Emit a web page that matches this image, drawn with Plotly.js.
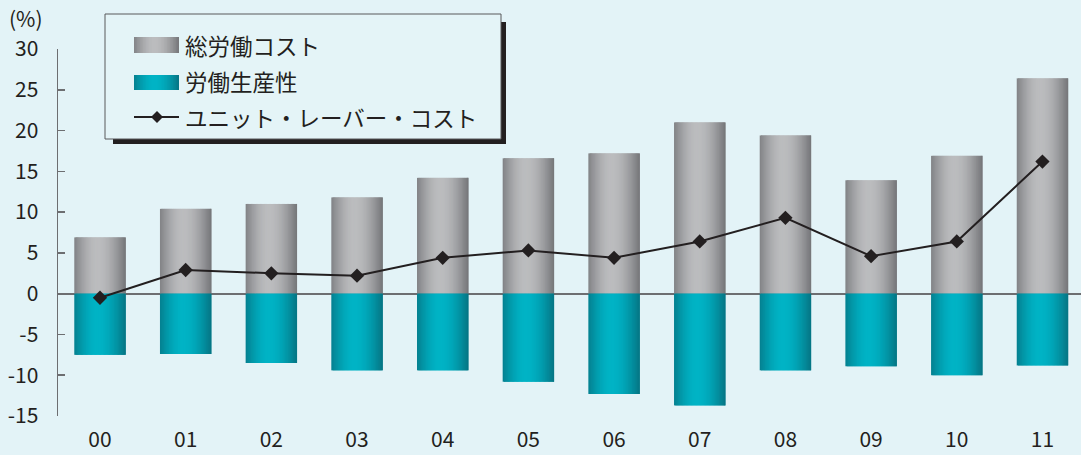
<!DOCTYPE html>
<html>
<head>
<meta charset="utf-8">
<script src="https://cdn.plot.ly/plotly-3.0.1.min.js"></script>
<style>
html,body{margin:0;padding:0;background:#e3f3f7;}
#chart{width:1081px;height:455px;}
</style>
</head>
<body>
<div id="chart"></div>
<script>
// ---- data ----
const years = ["00","01","02","03","04","05","06","07","08","09","10","11"];
const totalLaborCost = [6.9, 10.4, 11.0, 11.8, 14.2, 16.6, 17.2, 21.0, 19.4, 13.9, 16.9, 26.4];
const laborProductivity = [-7.5, -7.4, -8.5, -9.4, -9.4, -10.8, -12.3, -13.7, -9.4, -8.9, -10.0, -8.8];
const unitLaborCost = [-0.5, 2.9, 2.5, 2.2, 4.4, 5.3, 4.4, 6.4, 9.3, 4.6, 6.4, 16.2];
const yTickVals = [-15, -10, -5, 0, 5, 10, 15, 20, 25, 30];
const yTickText = ["-15", "-10", "-5", "0", "5", "10", "15", "20", "25", "30"];
const seriesNames = ["総労働コスト", "労働生産性", "ユニット・レーバー・コスト"];

// ---- styling helpers ----
const FONT = '"Noto Sans CJK JP", "Noto Sans", sans-serif';
const TXT = '#231f20';
function hex(c){return [parseInt(c.slice(1,3),16),parseInt(c.slice(3,5),16),parseInt(c.slice(5,7),16)];}
function mix(a,b,f){const A=hex(a),B=hex(b);return 'rgb('+A.map((v,i)=>Math.round(v+(B[i]-v)*f)).join(',')+')';}
function prof(t){ // brightness profile across a bar
  const p=0.45;
  if(t<p) return 0.25+0.75*Math.sin(Math.PI/2*t/p);
  return Math.cos(Math.PI/2*(t-p)/(1-p)*0.95);
}
const GRAY=['#6e6f73','#bbbcbe'];
const TEAL=['#066f7e','#00b3c5'];
const N=40, BW=0.6;

const traces=[];
function addGradientBars(vals, pal){
  const w=BW/N;
  for(let i=0;i<N;i++){
    const t=(i+0.5)/N;
    traces.push({
      type:'bar', x:years, y:vals,
      offset:-BW/2+i*w, width:(i<N-1)? w*2 : w,
      marker:{color:mix(pal[0],pal[1],prof(t)), line:{width:0}, opacity:1},
      showlegend:false, hoverinfo:'skip'
    });
  }
}
addGradientBars(totalLaborCost, GRAY);
addGradientBars(laborProductivity, TEAL);
traces.push({
  type:'scatter', mode:'lines+markers', x:years, y:unitLaborCost, name:seriesNames[2],
  line:{color:TXT,width:2}, marker:{symbol:'diamond',size:11,color:TXT},
  showlegend:false
});

// ---- layout geometry ----
const L=58, T=49, W=1081, H=455, PW=W-L, PH=416-T;
const px=x=>(x-L)/PW, py=y=>(416-y)/PH;
const shapes=[];
function rect(x0,y0,x1,y1,fill,line){
  shapes.push({type:'rect',xref:'paper',yref:'paper',x0:px(x0),x1:px(x1),y0:py(y1),y1:py(y0),
    fillcolor:fill,line:line||{width:0},layer:'above'});
}
// legend shadow + box
rect(113,22,506,144,'#231f20');
rect(105,14,501,139,'#e4f4f7',{color:'#58595b',width:1});
// gradient swatches
function swatch(y0,y1,pal){
  const n=30, x0=134, x1=179, w=(x1-x0)/n;
  for(let i=0;i<n;i++) rect(x0+i*w, y0, x0+(i+1)*w+(i<n-1?1.2:0), y1, mix(pal[0],pal[1],prof((i+0.5)/n)));
}
swatch(37,53,GRAY);
swatch(75,90,TEAL);
shapes.push({type:'line',xref:'paper',yref:'paper',x0:px(134),x1:px(179),y0:py(117),y1:py(117),
  line:{color:TXT,width:2},layer:'above'});
shapes.push({type:'path',xref:'paper',yref:'paper',layer:'above',fillcolor:TXT,line:{width:0},
  path:'M'+px(157)+','+py(111)+' L'+px(163)+','+py(117)+' L'+px(157)+','+py(123)+' L'+px(151)+','+py(117)+' Z'});

const ann=[];
[[45,seriesNames[0]],[81,seriesNames[1]],[117,seriesNames[2]]].forEach(([y,t])=>{
  ann.push({xref:'paper',yref:'paper',x:px(183),y:py(y),text:t,showarrow:false,
    xanchor:'left',yanchor:'middle',font:{family:FONT,size:22.5,color:TXT}});
});
ann.push({xref:'paper',yref:'paper',x:px(7),y:py(18),text:'(%)',showarrow:false,
  xanchor:'left',yanchor:'middle',font:{family:FONT,size:21,color:TXT}});

const layout={
  width:W,height:H,
  margin:{l:L,r:0,t:T,b:H-416,pad:0},
  paper_bgcolor:'#e3f3f7', plot_bgcolor:'#e3f3f7',
  barmode:'overlay', showlegend:false,
  font:{family:FONT,color:TXT,size:20},
  xaxis:{type:'category',range:[-0.49,11.45],showline:false,showgrid:false,zeroline:false,
    ticks:'',tickfont:{family:FONT,size:21,color:TXT},ticklabelstandoff:9,fixedrange:true},
  yaxis:{range:[-15,30],tickvals:yTickVals,ticktext:yTickText,showgrid:false,
    showline:true,linecolor:'#6d6e71',linewidth:1.5,
    ticks:'inside',ticklen:7,tickcolor:'#6d6e71',tickwidth:1.5,
    ticklabelstandoff:14,tickfont:{family:FONT,size:21,color:TXT},
    zeroline:true,zerolinecolor:'#6d6e71',zerolinewidth:2,fixedrange:true},
  shapes:shapes, annotations:ann
};
Plotly.newPlot('chart',traces,layout,{displayModeBar:false,staticPlot:true});
</script>
</body>
</html>
